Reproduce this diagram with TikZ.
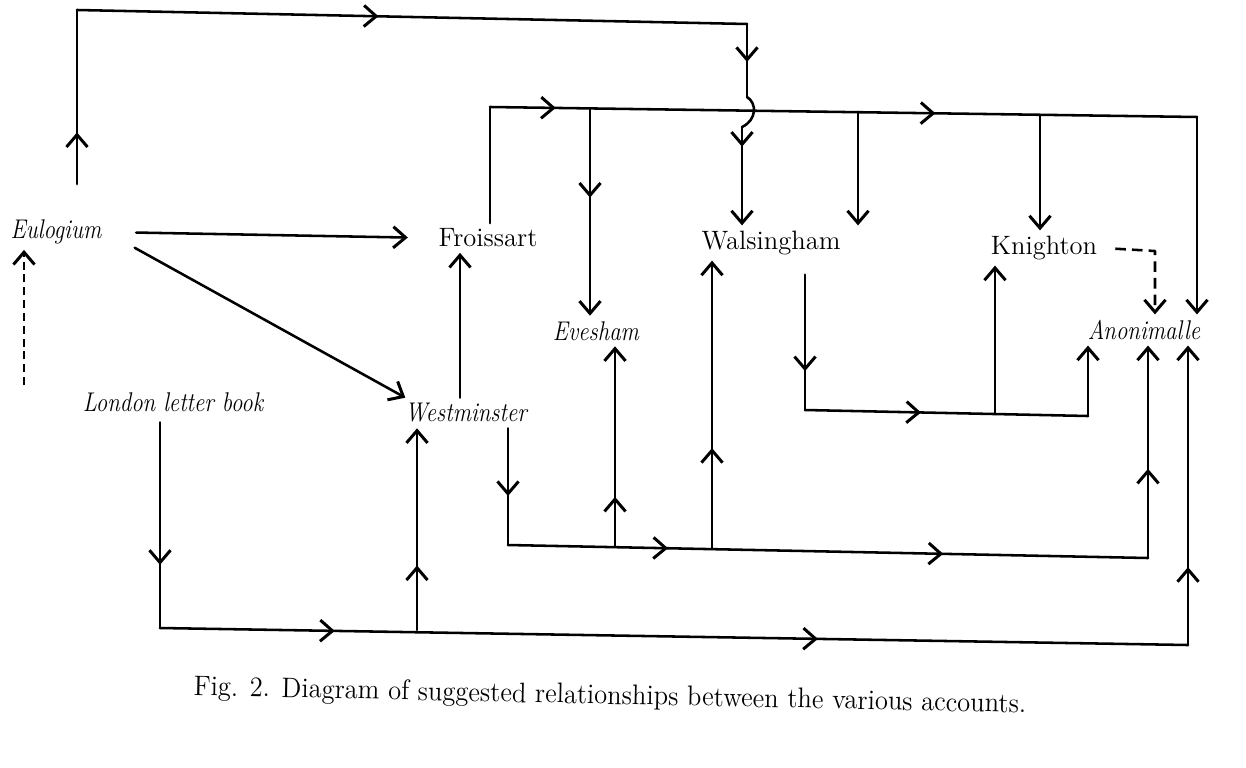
\documentclass[tikz,border=0pt]{standalone}
\usetikzlibrary{arrows.meta,decorations.markings,positioning}
\tikzstyle{every node}=[font=\fontsize{14}{17}\selectfont, inner sep=3pt, outer sep=0]
\tikzset{
  lnk/.style={line width=1.45pt, line cap=round, line join=round},
  midarr/.style={postaction={decorate,decoration={markings,mark=at position #1 with {\arrow{>}}}}},
  dsh/.style={lnk, dash pattern=on 4.5pt off 2.8pt, line cap=butt},
  acct/.style={font=\fontsize{14}{17}\selectfont\itshape, xscale=0.93, yscale=1.1},
  acctrm/.style={scale=1.08},
}

\begin{document}
\begin{tikzpicture}[x=0.02cm,y=-0.02cm,>={Straight Barb[length=7pt,width=12pt,line width=1.7pt]}]
		\useasboundingbox (0,0) rectangle (1246,767);
		\node[acct] (eul) at (56,232) {Eulogium};
		\node[acctrm] (fro) at (488,238) {Froissart};
		\node[acctrm] (wal) at (771,243) {Walsingham};
		\node[acctrm] (kni) at (1044,248) {Knighton};
		\node[acct] (eve) at (596,331) {Evesham};
		\node[acct] (ano) at (1144,330) {Anonimalle};
		\node[acct] (lon) at (173,402) {London letter book};
		\node[acct] (wes) at (466,413) {Westminster};
		\node[rotate=-1.2,xscale=1.08,yscale=1.15] (cap) at (610,697) {Fig. 2. Diagram of suggested relationships between the various accounts.};
		\coordinate[] (e1) at (77,10);
		\coordinate[] (e2) at (747,24);
		\coordinate[] (h1) at (747,97);
		\coordinate[] (h2) at (742,127);
		\coordinate[] (d0) at (24,385);
		\coordinate[] (fw) at (460,320);
		\coordinate[] (f1) at (490,107);
		\coordinate[] (f2) at (1197,117);
		\coordinate[] (j1) at (590,108.5);
		\coordinate[] (j2) at (858,112);
		\coordinate[] (j3) at (1040,115);
		\coordinate[] (k1) at (1155,251);
		\coordinate[] (w1) at (805,410);
		\coordinate[] (w2) at (1088,416);
		\coordinate[] (k2) at (995,414);
		\coordinate[] (m1) at (508,545);
		\coordinate[] (m4) at (1148,558);
		\coordinate[] (ev) at (615,547);
		\coordinate[] (wa) at (712,549);
		\coordinate[] (l1) at (160,628);
		\coordinate[] (l3) at (1188,645);
		\coordinate[] (lw) at (417,630);
		\draw[lnk,midarr=0.4,shorten <=0.6cm] (eul.north -| e1) -- (e1);
		\draw[lnk,midarr=0.45] (e1) -- (e2);
		\draw[lnk,midarr=0.52] (e2) -- (h1);
		\draw[lnk] (h1) .. controls (757,103) and (757,120) .. (h2);
		\draw[lnk,->,midarr=0.2] (h2) -- (h2 |- wal.north);
		\draw[dsh,->] (d0) -- (eul.south -| d0);
		\draw[lnk,->,shorten <=0.6cm,shorten >=0.5cm] (eul.east) -- (fro.west);
		\draw[lnk,->,shorten <=0.65cm] (eul.east) -- ([xshift=0.1cm]wes.north west);
		\draw[lnk,->] (wes.north -| fw) -- (fw |- fro.south);
		\draw[lnk] (f1 |- fro.north) -- (f1);
		\draw[lnk,midarr=0.093,midarr=0.63] (f1) -- (f2);
		\draw[lnk,->] (f2) -- (f2 |- ano.north);
		\draw[lnk,->,midarr=0.43] (j1) -- (j1 |- eve.north);
		\draw[lnk,->] (j2) -- (j2 |- wal.north);
		\draw[lnk,->] (j3) -- (j3 |- kni.north);
		\draw[dsh,dash pattern=on 6pt off 3.5pt,->,shorten <=0.25cm] (kni.east) -- (k1) -- (k1 |- ano.north);
		\draw[lnk,midarr=0.74,shorten <=0.28cm] (w1 |- wal.south) -- (w1);
		\draw[lnk,midarr=0.41] (w1) -- (w2);
		\draw[lnk,->] (w2) -- (w2 |- ano.south);
		\draw[lnk,->] (k2) -- (k2 |- kni.south);
		\draw[lnk,midarr=0.58] (m1 |- wes.south) -- (m1);
		\draw[lnk,midarr=0.25,midarr=0.68] (m1) -- (m4);
		\draw[lnk,->,midarr=0.42] (m4) -- (m4 |- ano.south);
		\draw[lnk,->,midarr=0.25] (ev) -- (ev |- eve.south);
		\draw[lnk,->,midarr=0.35] (wa) -- (wa |- wal.south);
		\draw[lnk,midarr=0.7,shorten <=0.1cm] (l1 |- lon.south) -- (l1);
		\draw[lnk,midarr=0.17,midarr=0.64] (l1) -- (l3);
		\draw[lnk,->,midarr=0.26] (l3) -- (l3 |- ano.south);
		\draw[lnk,->,midarr=0.32] (lw) -- (lw |- wes.south);
	\end{tikzpicture}
\end{document}
